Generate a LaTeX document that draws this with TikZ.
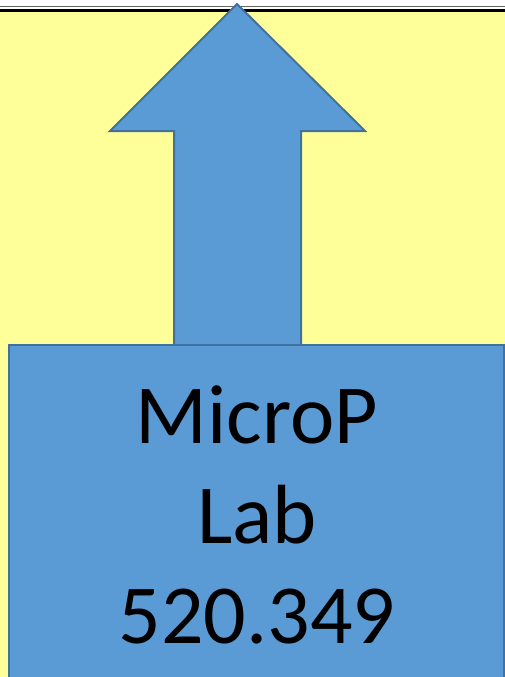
\documentclass[tikz,border=0pt]{standalone}
\usepackage{fontspec}
\setmainfont{Carlito}
\definecolor{bgyellow}{HTML}{FFFF99}
\definecolor{boxblue}{HTML}{5B9BD5}
\definecolor{edgeblue}{HTML}{41719C}
\tikzset{
  shapeblue/.style={fill=boxblue, draw=edgeblue, line width=2pt, line join=miter},
  labeltext/.style={font=\fontsize{84}{100}\selectfont, text=black, align=center}
}
\begin{document}
\begin{tikzpicture}[x=1pt,y=-1pt]
\useasboundingbox (0,0) rectangle (505,677);
\clip (0,0) rectangle (505,677);
\fill[white] (0,0) rectangle (505,677);
\fill[bgyellow] (0,12) rectangle (505,677);
\draw[black!60, line width=1.5pt] (0,6.5) -- (505,6.5);
\draw[black, line width=3pt] (0,10.5) -- (505,10.5);
\draw[shapeblue] (237,4) -- (365,131) -- (301,131) -- (301,360) -- (174,360) -- (174,131) -- (110,131) -- cycle;
\node[shapeblue, minimum width=495pt, minimum height=400pt, anchor=north west, inner sep=0pt] (box) at (8,344) {};
\node[labeltext, anchor=base] (t1) at (257,443) {MicroP};
\node[labeltext, anchor=base] (t2) at (257,543) {Lab};
\node[labeltext, anchor=base] (t3) at (257,643) {520.349};
\end{tikzpicture}
\end{document}
